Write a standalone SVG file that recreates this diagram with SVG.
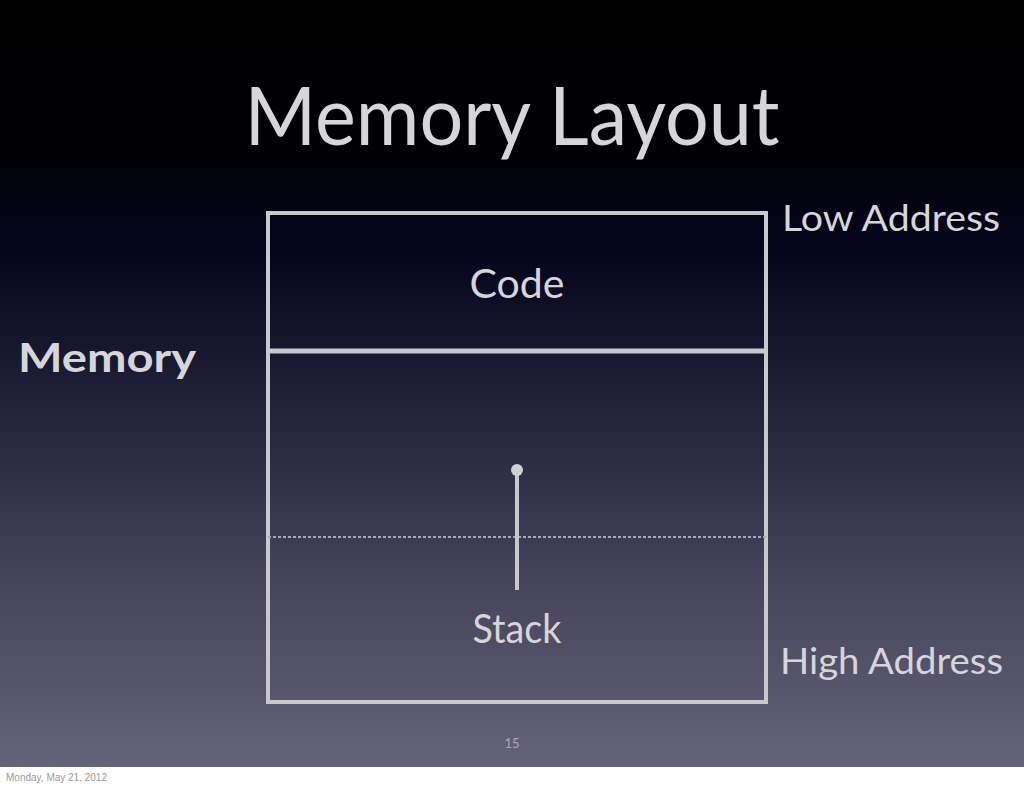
<svg xmlns="http://www.w3.org/2000/svg" width="1024" height="788" viewBox="0 0 1024 788">
<defs>
<linearGradient id="bg" x1="0" y1="0" x2="0" y2="1">
<stop offset="0" stop-color="#000000"/>
<stop offset="0.2" stop-color="#010106"/>
<stop offset="0.33" stop-color="#05051e"/>
<stop offset="0.5" stop-color="#1d1d36"/>
<stop offset="0.75" stop-color="#44435a"/>
<stop offset="1" stop-color="#64637a"/>
</linearGradient>
<marker id="ah" viewBox="0 0 10 10" refX="5" refY="5" markerWidth="3" markerHeight="3" orient="auto">
<circle cx="5" cy="5" r="5" fill="#d0d0d4"/>
</marker>
<style>
.t{font-family:"Lato","Open Sans","Liberation Sans",sans-serif;fill:#d6d6d8}
.box{fill:none;stroke:#c9c9cd;stroke-width:4}
</style>
</defs>
<rect x="0" y="0" width="1024" height="788" fill="#ffffff"/>
<rect x="0" y="0" width="1024" height="767" fill="url(#bg)"/>
<text class="t" x="512" y="145" font-size="82" text-anchor="middle" textLength="535" lengthAdjust="spacingAndGlyphs">Memory Layout</text>
<g id="memory-block">
<rect class="box" x="268" y="213" width="498" height="489"/>
</g>
<g id="code">
<line x1="268" y1="351" x2="766" y2="351" stroke="#c9c9cd" stroke-width="5"/>
<text class="t" x="517" y="298" font-size="40" text-anchor="middle" textLength="95" lengthAdjust="spacingAndGlyphs">Code</text>
</g>
<g id="stack">
<line x1="268" y1="537" x2="766" y2="537" stroke="#a9a9b2" stroke-width="2" stroke-dasharray="3 2"/>
<text class="t" x="517" y="643" font-size="40" text-anchor="middle" textLength="89" lengthAdjust="spacingAndGlyphs">Stack</text>
</g>
<g id="connectors">
<line x1="517" y1="590" x2="517" y2="470" stroke="#c9c9cd" stroke-width="4" marker-end="url(#ah)"/>
</g>
<g id="labels">
<text class="t" x="18" y="372" font-size="40" font-weight="bold" textLength="178" lengthAdjust="spacingAndGlyphs">Memory</text>
<text class="t" x="782" y="231" font-size="36" textLength="218" lengthAdjust="spacingAndGlyphs">Low Address</text>
<text class="t" x="780" y="674" font-size="36" textLength="223" lengthAdjust="spacingAndGlyphs">High Address</text>
<text class="t" x="512" y="748" font-size="13" text-anchor="middle" fill="#a8a8b4" style="fill:#a8a8b4">15</text>
<text x="6" y="781" font-size="10" font-family="Liberation Sans, sans-serif" fill="#9a9a9a">Monday, May 21, 2012</text>
</g>
</svg>
